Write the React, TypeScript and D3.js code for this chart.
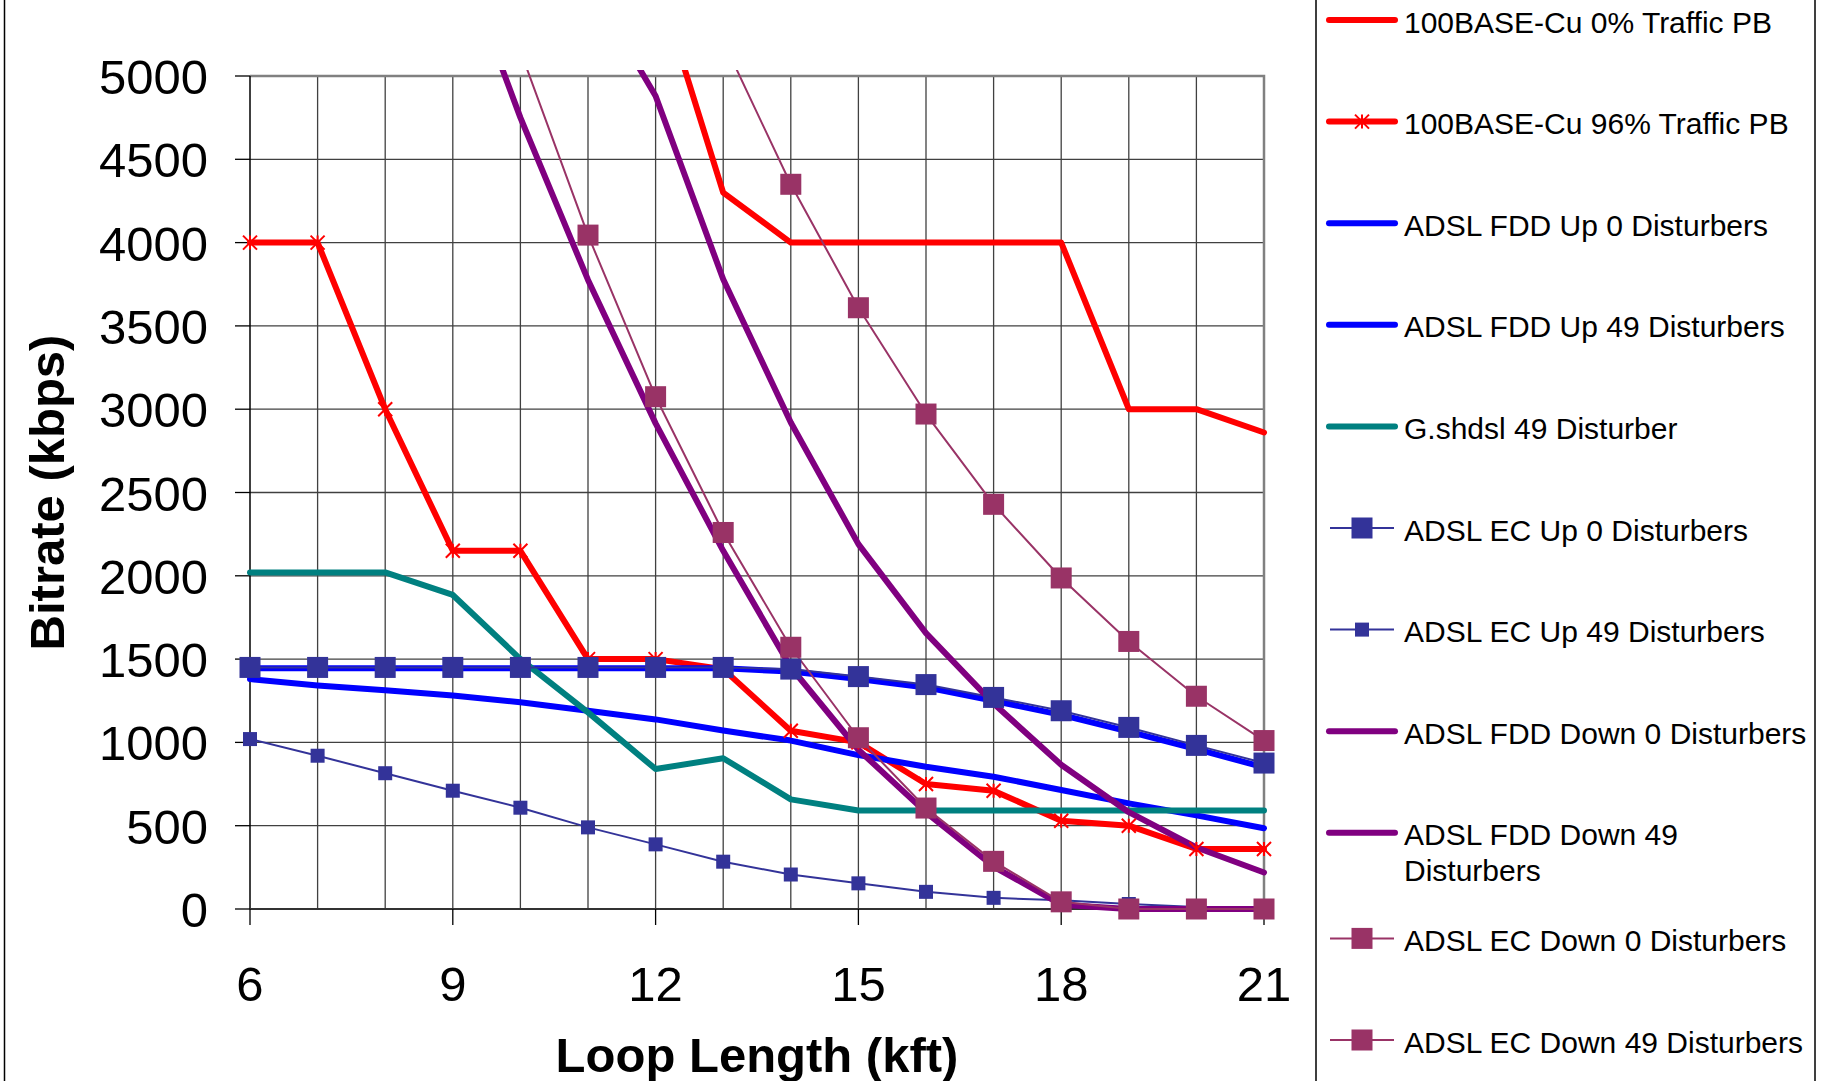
// Bitrate vs loop length: 100BASE-Cu, ADSL and G.shdsl curves
import { useRef, useEffect } from 'react'
import * as d3 from 'd3'

const LOOP_KFT = [6, 7, 8, 9, 10, 11, 12, 13, 14, 15, 16, 17, 18, 19, 20, 21]
const X_TICKS = [6, 9, 12, 15, 18, 21]
const Y_TICKS = [0, 500, 1000, 1500, 2000, 2500, 3000, 3500, 4000, 4500, 5000]

// kbps per loop length (null = not plotted)
const BASE_CU_0 = [null, null, null, null, null, null, 5600, 4300, 4000, 4000, 4000, 4000, 4000, 3000, 3000, 2860]
const BASE_CU_96 = [4000, 4000, 3000, 2150, 2150, 1500, 1500, 1440, 1070, 1000, 750, 710, 530, 500, 360, 360]
const FDD_UP_0 = [1445, 1445, 1445, 1445, 1445, 1445, 1445, 1445, 1425, 1380, 1330, 1250, 1165, 1065, 960, 850]
const FDD_UP_49 = [1380, 1342, 1313, 1282, 1241, 1190, 1138, 1071, 1011, 924, 854, 794, 714, 634, 562, 485]
const SHDSL_49 = [2020, 2020, 2020, 1885, 1500, 1180, 840, 905, 658, 591, 591, 591, 591, 591, 591, 591]
const EC_UP_0 = [1450, 1450, 1450, 1450, 1450, 1450, 1450, 1450, 1440, 1395, 1347, 1270, 1190, 1090, 982, 876]
const EC_UP_49 = [1020, 920, 815, 710, 608, 490, 388, 284, 207, 154, 103, 67, 52, 30, 12, 5]
const FDD_DOWN_0 = [null, null, null, null, null, 5570, 4880, 3780, 2920, 2190, 1656, 1233, 866, 581, 369, 219]
const FDD_DOWN_49 = [null, null, null, 5840, 4750, 3776, 2915, 2150, 1451, 956, 580, 255, 26, 0, 0, 0]
const EC_DOWN_0 = [null, null, null, null, null, null, null, 5210, 4350, 3609, 2971, 2429, 1987, 1606, 1277, 1011]
const EC_DOWN_49 = [null, null, null, null, 5150, 4045, 3075, 2260, 1571, 1028, 606, 286, 43, 0, 0, 0]

const SERIES = [
  { name: ['100BASE-Cu 0% Traffic PB'], values: BASE_CU_0, color: '#FF0000', width: 6, marker: null, size: 0 },
  { name: ['100BASE-Cu 96% Traffic PB'], values: BASE_CU_96, color: '#FF0000', width: 6, marker: 'star', size: 7 },
  { name: ['ADSL FDD Up 0 Disturbers'], values: FDD_UP_0, color: '#0000FF', width: 6, marker: null, size: 0 },
  { name: ['ADSL FDD Up 49 Disturbers'], values: FDD_UP_49, color: '#0000FF', width: 6, marker: null, size: 0 },
  { name: ['G.shdsl 49 Disturber'], values: SHDSL_49, color: '#008080', width: 6, marker: null, size: 0 },
  { name: ['ADSL EC Up 0 Disturbers'], values: EC_UP_0, color: '#333399', width: 2, marker: 'square', size: 21 },
  { name: ['ADSL EC Up 49 Disturbers'], values: EC_UP_49, color: '#333399', width: 2, marker: 'square', size: 14 },
  { name: ['ADSL FDD Down 0 Disturbers'], values: FDD_DOWN_0, color: '#800080', width: 6, marker: null, size: 0 },
  { name: ['ADSL FDD Down 49', 'Disturbers'], values: FDD_DOWN_49, color: '#800080', width: 6, marker: null, size: 0 },
  { name: ['ADSL EC Down 0 Disturbers'], values: EC_DOWN_0, color: '#993366', width: 2, marker: 'square', size: 21 },
  { name: ['ADSL EC Down 49 Disturbers'], values: EC_DOWN_49, color: '#993366', width: 2, marker: 'square', size: 21 },
]

const FONT = 'Liberation Sans, Arial, Helvetica, sans-serif'

export default function App() {
  const svgRef = useRef<SVGSVGElement>(null)

  useEffect(() => {
    const width = 1824
    const height = 1081
    const margin = { top: 76, right: 560, bottom: 172, left: 250 }
    const plotW = width - margin.left - margin.right
    const plotH = height - margin.top - margin.bottom

    const svg = d3.select(svgRef.current)
      .attr('width', width)
      .attr('height', height)
    svg.selectAll('*').remove()

    svg.append('rect').attr('width', width).attr('height', height).attr('fill', '#fff')

    const x = d3.scaleLinear().domain([6, 21]).range([margin.left, margin.left + plotW])
    const y = d3.scaleLinear().domain([0, 5000]).range([margin.top + plotH, margin.top])

    svg.append('defs').append('clipPath').attr('id', 'plot-clip')
      .append('rect')
      .attr('x', margin.left - 10).attr('y', margin.top - 6)
      .attr('width', plotW + 20).attr('height', plotH + 16)

    // outer chart border
    svg.append('line')
      .attr('x1', 4.5).attr('x2', 4.5).attr('y1', 0).attr('y2', height)
      .attr('stroke', '#000').attr('stroke-width', 1.5)

    const g = svg.append('g')

    // grid
    g.selectAll('line.hgrid')
      .data(Y_TICKS.filter(v => v > 0 && v < 5000))
      .join('line')
      .attr('class', 'hgrid')
      .attr('x1', margin.left).attr('x2', margin.left + plotW)
      .attr('y1', d => y(d)).attr('y2', d => y(d))
      .attr('stroke', '#404040').attr('stroke-width', 1.3)

    g.selectAll('line.vgrid')
      .data(LOOP_KFT.filter(v => v > 6 && v < 21))
      .join('line')
      .attr('class', 'vgrid')
      .attr('x1', d => x(d)).attr('x2', d => x(d))
      .attr('y1', margin.top).attr('y2', margin.top + plotH)
      .attr('stroke', '#404040').attr('stroke-width', 1.3)

    // plot border top/right
    g.append('path')
      .attr('d', `M${margin.left},${margin.top}H${margin.left + plotW}V${margin.top + plotH}`)
      .attr('fill', 'none').attr('stroke', '#808080').attr('stroke-width', 2.5)

    // axes
    g.append('line')
      .attr('x1', margin.left).attr('x2', margin.left)
      .attr('y1', margin.top).attr('y2', margin.top + plotH)
      .attr('stroke', '#000').attr('stroke-width', 1.5)
    g.append('line')
      .attr('x1', margin.left).attr('x2', margin.left + plotW)
      .attr('y1', margin.top + plotH).attr('y2', margin.top + plotH)
      .attr('stroke', '#333').attr('stroke-width', 2)

    g.selectAll('line.ytick')
      .data(Y_TICKS)
      .join('line')
      .attr('class', 'ytick')
      .attr('x1', margin.left - 15).attr('x2', margin.left)
      .attr('y1', d => y(d)).attr('y2', d => y(d))
      .attr('stroke', '#000').attr('stroke-width', 1.3)

    g.selectAll('line.xtick')
      .data(X_TICKS)
      .join('line')
      .attr('class', 'xtick')
      .attr('x1', d => x(d)).attr('x2', d => x(d))
      .attr('y1', margin.top + plotH).attr('y2', margin.top + plotH + 16)
      .attr('stroke', '#000').attr('stroke-width', 1.3)

    g.selectAll('text.ylab')
      .data(Y_TICKS)
      .join('text')
      .attr('class', 'ylab')
      .attr('x', 208)
      .attr('y', d => y(d) + 18)
      .attr('text-anchor', 'end')
      .attr('font-family', FONT)
      .attr('font-size', 49)
      .text(d => d)

    g.selectAll('text.xlab')
      .data(X_TICKS)
      .join('text')
      .attr('class', 'xlab')
      .attr('x', d => x(d))
      .attr('y', 1001)
      .attr('text-anchor', 'middle')
      .attr('font-family', FONT)
      .attr('font-size', 49)
      .text(d => d)

    g.append('text')
      .attr('x', margin.left + plotW / 2).attr('y', 1072)
      .attr('text-anchor', 'middle')
      .attr('font-family', FONT).attr('font-size', 49).attr('font-weight', 'bold')
      .text('Loop Length (kft)')

    g.append('text')
      .attr('transform', `translate(64, ${margin.top + plotH / 2}) rotate(-90)`)
      .attr('text-anchor', 'middle')
      .attr('font-family', FONT).attr('font-size', 49).attr('font-weight', 'bold')
      .text('Bitrate (kbps)')

    // series
    const line = d3.line<number | null>()
      .defined(d => d != null)
      .x((d, i) => x(LOOP_KFT[i]))
      .y(d => y(d as number))

    const starPath = (s: number) =>
      `M${-s},${-s}L${s},${s}M${-s},${s}L${s},${-s}M0,${-s}L0,${s}`

    const lines = g.append('g').attr('clip-path', 'url(#plot-clip)')

    SERIES.forEach(s => {
      lines.append('path')
        .attr('d', line(s.values))
        .attr('fill', 'none')
        .attr('stroke', s.color)
        .attr('stroke-width', s.width)
        .attr('stroke-linejoin', 'round')
        .attr('stroke-linecap', 'round')

      if (!s.marker) return
      const pts = s.values
        .map((v, i) => ({ k: LOOP_KFT[i], v }))
        .filter(p => p.v != null && p.v <= 5000) as { k: number, v: number }[]

      if (s.marker === 'square') {
        g.append('g').selectAll('rect')
          .data(pts)
          .join('rect')
          .attr('x', p => x(p.k) - s.size / 2)
          .attr('y', p => y(p.v) - s.size / 2)
          .attr('width', s.size).attr('height', s.size)
          .attr('fill', s.color)
      } else {
        g.append('g').selectAll('path')
          .data(pts)
          .join('path')
          .attr('transform', p => `translate(${x(p.k)},${y(p.v)})`)
          .attr('d', starPath(s.size))
          .attr('fill', 'none')
          .attr('stroke', s.color)
          .attr('stroke-width', 2)
      }
    })

    // legend
    const leg = svg.append('g')
    leg.append('rect')
      .attr('x', 1316).attr('y', -10)
      .attr('width', 499).attr('height', height + 20)
      .attr('fill', '#fff').attr('stroke', '#000').attr('stroke-width', 1.5)

    let ly = 20
    SERIES.forEach(s => {
      const item = leg.append('g').attr('transform', `translate(0, ${ly})`)
      if (s.marker === 'square') {
        item.append('line')
          .attr('x1', 1330).attr('x2', 1394).attr('y1', 0).attr('y2', 0)
          .attr('stroke', s.color).attr('stroke-width', s.width)
        item.append('rect')
          .attr('x', 1362 - s.size / 2).attr('y', -s.size / 2)
          .attr('width', s.size).attr('height', s.size)
          .attr('fill', s.color)
      } else {
        item.append('line')
          .attr('x1', 1329).attr('x2', 1395).attr('y1', 0).attr('y2', 0)
          .attr('stroke', s.color).attr('stroke-width', s.width)
          .attr('stroke-linecap', 'round')
        if (s.marker === 'star') {
          item.append('path')
            .attr('transform', 'translate(1362, 0)')
            .attr('d', starPath(s.size))
            .attr('fill', 'none').attr('stroke', s.color).attr('stroke-width', 2)
        }
      }
      s.name.forEach((t, j) => {
        item.append('text')
          .attr('x', 1404).attr('y', 12.5 + j * 36)
          .attr('font-family', FONT).attr('font-size', 30)
          .text(t)
      })
      ly += 101.6 + (s.name.length > 1 ? 4 : 0)
    })
  }, [])

  return <svg ref={svgRef} style={{ display: 'block', position: 'absolute', left: 0, top: 0 }} />
}
